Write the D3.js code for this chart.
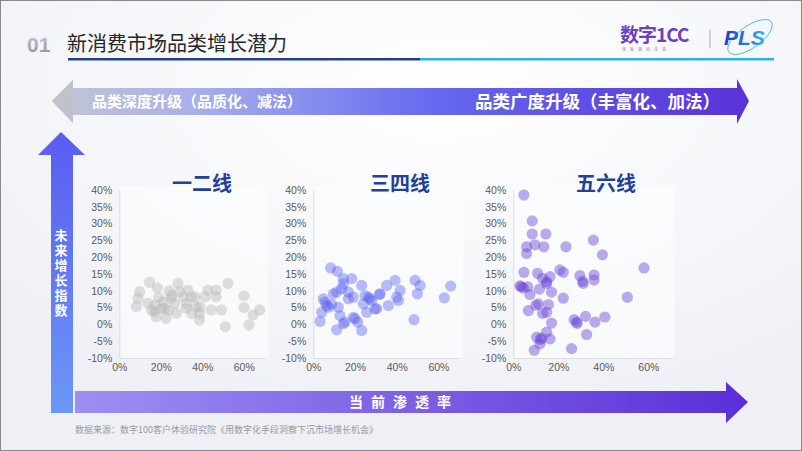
<!DOCTYPE html>
<html lang="zh">
<head>
<meta charset="UTF-8">
<title>新消费市场品类增长潜力</title>
<script src="https://d3js.org/d3.v7.min.js"></script>
<style>
  body { margin: 0; background: #fff; }
  svg { display: block; font-family: "Noto Sans CJK SC", "Noto Sans", sans-serif; }
  .tick-label { font-family: "Liberation Sans", Arial, sans-serif; font-size: 10.5px; fill: #5a5a5a; }
</style>
</head>
<body>
<svg width="802" height="451"></svg>
<script>
// ---- data (penetration %, growth index %) ----
const tierNames = ["一二线", "三四线", "五六线"];
const xTicks = [0, 20, 40, 60];
const yTicks = [-10, -5, 0, 5, 10, 15, 20, 25, 30, 35, 40];

const tier12 = [
  [8.2,5.3],[9,7.8],[9.8,9.7],[14.6,12.5],[18.3,10.9],[13.8,6.3],[15.6,4.2],[17,3.8],
  [17.8,2.3],[17.2,5.7],[20.4,4.7],[21.9,4.8],[22.6,1.8],[23.6,4.2],[21.2,6.7],[25,7.8],
  [25.2,8.7],[26.8,6.2],[27.5,3.3],[28.3,12.2],[29.1,9.7],[30.8,8.2],[32.3,4.8],[32.4,6.2],
  [33.1,10.2],[34.7,8.2],[34.9,3.2],[36.5,8.2],[37.1,5.3],[38.7,3.3],[38.9,5.2],[38.7,1.3],
  [41.3,8.2],[42.7,10.2],[44.3,4.3],[46.7,10.2],[46.7,8.2],[49.2,4.3],[52.4,12.2],[51.1,-0.7],
  [60.1,8.5],[60.1,5.0],[62.5,-0.2],[64.4,2.8],[67.7,4.3],[19,8],[24,10]
];
const tier34 = [
  [8.3,16.8],[11.5,15.8],[14.4,13.6],[18.4,13.6],[14.4,12.1],[4.8,7.6],[5.6,6.6],[4.0,3.6],
  [3.2,0.9],[7.2,5.1],[11.2,9.6],[12.0,5.1],[12.8,2.6],[11.2,-1.6],[14.4,0.2],[16.8,9.6],
  [16.8,7.6],[19.2,8.1],[19.2,2.1],[20.0,1.7],[23.2,11.6],[23.2,-1.8],[24.0,6.1],[26.4,8.1],
  [28.0,7.1],[25.6,3.6],[29.6,4.6],[32.0,9.1],[35.2,11.6],[36.0,5.6],[39.2,13.1],[40.0,8.1],
  [40.8,7.1],[41.6,10.1],[48.8,13.1],[51.2,11.6],[49.9,9.1],[48.3,1.4],[62.8,7.9],[65.9,11.4],
  [9.6,9.1],[6.4,5.6],[8.8,6.0],[13.6,10.6],[21.3,0.7],[15.2,0.7],[27.2,7.6],[31.7,8.9],
  [24.8,8.6],[30.4,4.7]
];
const tier56 = [
  [4.7,38.5],[8.4,30.8],[8.4,26.9],[14.5,26.9],[5.9,23.1],[9.6,23.7],[13.6,23.1],[5.9,21.1],
  [23.4,23.1],[35.6,25.1],[39.6,20.7],[4.7,15.5],[10.8,15.2],[16.3,14.2],[14.8,12.7],[13.0,13.7],
  [14.8,12.2],[20.7,16.2],[22.2,15.5],[29.6,14.5],[31.1,12.2],[30.8,12.8],[35.9,14.7],[35.9,13.2],
  [58.1,16.8],[3.0,11.5],[4.4,10.8],[6.4,11.2],[7.4,8.9],[11.6,10.5],[17.0,9.6],[22.2,7.8],
  [50.7,8.1],[11.1,6.1],[15.6,5.9],[6.7,4.1],[13.0,3.3],[14.8,3.6],[17.0,0.4],[27.0,1.4],
  [28.1,0.7],[28.4,0.3],[32.1,2.4],[36.3,0.7],[40.7,2.2],[32.6,-3.0],[14.8,-2.3],[10.4,-3.8],
  [12.6,-4.1],[12.0,-4.5],[16.3,-4.3],[11.9,-5.8],[9.3,-7.7],[25.9,-7.2],[3.5,11.2],[10.0,5.7]
];
const tierData = [tier12, tier34, tier56];

// ---- panel geometry ----
const panels = [
  { x0: 119.3, x1: 264.5, fill: "#b9b9b9", op: 0.45, title: 202 },
  { x0: 313.3, x1: 459.3, fill: "#5a62f0", op: 0.42, title: 400 },
  { x0: 513.3, x1: 670.8, fill: "#6a44d8", op: 0.45, title: 606 }
];
const yTop = 190, yBot = 358;

const svg = d3.select("svg");
const defs = svg.append("defs");

// background
const bg = defs.append("radialGradient").attr("id", "bg").attr("cx", "55%").attr("cy", "20%").attr("r", "75%");
bg.append("stop").attr("offset", "0%").attr("stop-color", "#ffffff");
bg.append("stop").attr("offset", "100%").attr("stop-color", "#eef0f6");
svg.append("rect").attr("width", 802).attr("height", 451).attr("fill", "url(#bg)");

// header
const g01 = defs.append("linearGradient").attr("id", "g01").attr("x1", 0).attr("y1", 0).attr("x2", 0).attr("y2", 1);
g01.append("stop").attr("offset", "0%").attr("stop-color", "#c3c7d2");
g01.append("stop").attr("offset", "100%").attr("stop-color", "#8d93a3");
svg.append("text").attr("x", 27).attr("y", 52).attr("font-family", "Liberation Sans, Arial, sans-serif")
  .attr("font-weight", "bold").attr("font-size", 21).attr("fill", "url(#g01)").text("01");
svg.append("text").attr("x", 67).attr("y", 51).attr("font-size", 20).attr("fill", "#262626").text("新消费市场品类增长潜力");
svg.append("rect").attr("x", 68).attr("y", 58).attr("width", 352).attr("height", 2.5).attr("fill", "#21408f");
svg.append("rect").attr("x", 420).attr("y", 58).attr("width", 354).attr("height", 2.5).attr("fill", "#2eb0ea");

// logo
svg.append("text").attr("x", 620).attr("y", 42).attr("font-size", 19).attr("font-weight", "bold")
  .attr("fill", "#6b3fc2").attr("letter-spacing", -1).text("数字1CC");
svg.append("text").attr("x", 622).attr("y", 51).attr("font-size", 4).attr("fill", "#8a7ab8")
  .attr("letter-spacing", 4).text("体验驱动未来");
svg.append("line").attr("x1", 710).attr("x2", 710).attr("y1", 30).attr("y2", 48).attr("stroke", "#aab").attr("stroke-width", 1);
const gPls = defs.append("linearGradient").attr("id", "gpls");
gPls.append("stop").attr("offset", "0%").attr("stop-color", "#2237c8");
gPls.append("stop").attr("offset", "100%").attr("stop-color", "#2fb2f0");
svg.append("ellipse").attr("cx", 750).attr("cy", 37).attr("rx", 26).attr("ry", 11)
  .attr("transform", "rotate(-35 750 37)").attr("fill", "none").attr("stroke", "#2fb2f0").attr("stroke-width", 0.8);
svg.append("text").attr("x", 724).attr("y", 45).attr("font-family", "Liberation Sans, Arial, sans-serif")
  .attr("font-size", 21).attr("font-weight", "bold").attr("font-style", "italic").attr("fill", "url(#gpls)").text("PLS");

// top double arrow
const gTop = defs.append("linearGradient").attr("id", "gtop");
gTop.append("stop").attr("offset", "0%").attr("stop-color", "#c3c5d3");
gTop.append("stop").attr("offset", "20%").attr("stop-color", "#a9b0ea");
gTop.append("stop").attr("offset", "55%").attr("stop-color", "#6469f0");
gTop.append("stop").attr("offset", "100%").attr("stop-color", "#5a32d8");
const line = d3.line();
svg.append("path").attr("fill", "url(#gtop)")
  .attr("d", line([[52,101],[73,80],[73,88],[737,88],[737,79],[749,101],[737,124],[737,115],[73,115],[73,123]]) + "Z");
svg.append("path").attr("fill", "#bfc1cb").attr("d", line([[52,101],[73,80],[73,123]]) + "Z");
svg.append("text").attr("x", 92).attr("y", 107).attr("font-size", 15).attr("font-weight", "bold")
  .attr("fill", "#fff").text("品类深度升级（品质化、减法）");
svg.append("text").attr("x", 720).attr("y", 108).attr("text-anchor", "end").attr("font-size", 17.5)
  .attr("font-weight", "bold").attr("fill", "#fff").text("品类广度升级（丰富化、加法）");

// vertical arrow
const gV = defs.append("linearGradient").attr("id", "gv").attr("x1", 0).attr("y1", 0).attr("x2", 0).attr("y2", 1);
gV.append("stop").attr("offset", "0%").attr("stop-color", "#5a5cf0");
gV.append("stop").attr("offset", "100%").attr("stop-color", "#6b98f6");
svg.append("path").attr("fill", "url(#gv)")
  .attr("d", line([[61,132],[85,155],[73,155],[73,413],[51,413],[51,155],[38,155]]) + "Z");
svg.append("text").attr("x", 61).attr("y", 229).attr("writing-mode", "vertical-rl")
  .style("writing-mode", "vertical-rl").attr("font-size", 13).attr("font-weight", "bold")
  .attr("letter-spacing", 2).attr("fill", "#fff").text("未来增长指数");

// bottom arrow
const gB = defs.append("linearGradient").attr("id", "gb");
gB.append("stop").attr("offset", "0%").attr("stop-color", "#9d90f2");
gB.append("stop").attr("offset", "100%").attr("stop-color", "#5a2fd7");
svg.append("path").attr("fill", "url(#gb)")
  .attr("d", line([[75,391],[726,391],[726,382],[748,402],[726,423],[726,413],[75,413]]) + "Z");
svg.append("text").attr("x", 404).attr("y", 407).attr("text-anchor", "middle").attr("font-size", 14)
  .attr("font-weight", "bold").attr("fill", "#fff").attr("letter-spacing", 8).text("当前渗透率");

// source
svg.append("text").attr("x", 75).attr("y", 433).attr("font-size", 9).attr("fill", "#9a9a9a")
  .text("数据来源：数字100客户体验研究院《用数字化手段洞察下沉市场增长机会》");

// scatter panels
const fmt = d => d + "%";
panels.forEach((p, i) => {
  const x = d3.scaleLinear().domain([0, 70]).range([p.x0, p.x1]);
  const y = d3.scaleLinear().domain([-10, 40]).range([yBot, yTop]);
  const g = svg.append("g");

  g.append("rect").attr("x", p.x0).attr("y", yTop - 4).attr("width", p.x1 - p.x0 + 4)
    .attr("height", yBot - yTop + 4).attr("fill", "#fbfcfe").attr("opacity", 0.7);

  const yAxis = g.append("g").attr("transform", `translate(${p.x0},0)`)
    .call(d3.axisLeft(y).tickValues(yTicks).tickFormat(fmt).tickSize(0).tickPadding(7));
  const xAxis = g.append("g").attr("transform", `translate(0,${yBot})`)
    .call(d3.axisBottom(x).tickValues(xTicks).tickFormat(fmt).tickSize(0).tickPadding(6));
  [xAxis, yAxis].forEach(a => {
    a.select(".domain").attr("stroke", "#dcdde2");
    a.selectAll("text").attr("class", "tick-label");
  });

  g.selectAll("circle").data(tierData[i]).join("circle")
    .attr("cx", d => x(d[0])).attr("cy", d => y(d[1])).attr("r", 5.6)
    .attr("fill", p.fill).attr("fill-opacity", p.op);

  svg.append("text").attr("x", p.title).attr("y", 191).attr("text-anchor", "middle")
    .attr("font-size", 20).attr("font-weight", "bold").attr("fill", "#22409a").text(tierNames[i]);
});

// frame
svg.append("rect").attr("x", 0.5).attr("y", 0.5).attr("width", 801).attr("height", 450)
  .attr("fill", "none").attr("stroke", "#8a8a8a");
</script>
</body>
</html>
